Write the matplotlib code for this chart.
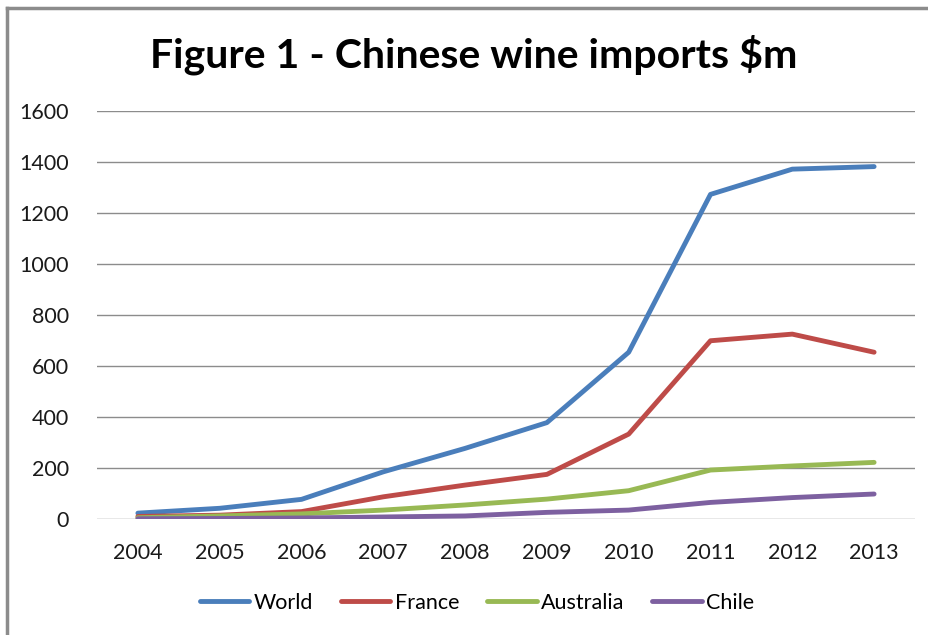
import matplotlib
matplotlib.use('Agg')
import matplotlib.pyplot as plt
from matplotlib.lines import Line2D

years = ['2004', '2005', '2006', '2007', '2008', '2009', '2010', '2011', '2012', '2013']
world = [23, 42, 77, 185, 277, 378, 654, 1273, 1372, 1382]
france = [10, 15, 29, 87, 133, 175, 333, 699, 725, 654]
australia = [5, 12, 20, 35, 55, 78, 111, 192, 208, 222]
chile = [1, 2, 4, 8, 12, 26, 35, 65, 84, 98]
series = ['World', 'France', 'Australia', 'Chile']
colors = ['#4a7ebb', '#be4b48', '#98b954', '#7d60a0']
yticks = [0, 200, 400, 600, 800, 1000, 1200, 1400, 1600]

plt.rcParams['font.family'] = ['Lato', 'DejaVu Sans']

fig = plt.figure(figsize=(9.29, 6.35), dpi=100)
ax = fig.add_axes([97/929, 1 - 519/635, 818/929, 408/635])

x = range(len(years))
for name, vals, c in zip(series, [world, france, australia, chile], colors):
    ax.plot(x, vals, color=c, linewidth=3.5, label=name, solid_capstyle='round')

ax.set_xlim(-0.5, len(years) - 0.5)
ax.set_ylim(0, 1600)
ax.set_yticks(yticks)
ax.set_xticks(list(x))
ax.set_xticklabels(years)
ax.grid(axis='y', color='#8c8c8c', linewidth=1)
ax.set_axisbelow(True)
for s in ax.spines.values():
    s.set_visible(False)
ax.tick_params(length=0, labelsize=15.5, colors='#1a1a1a')
ax.tick_params(axis='y', pad=20)
ax.tick_params(axis='x', pad=17)

fig.text(474/929, 1 - 55/635, 'Figure 1 - Chinese wine imports $m', ha='center', va='center',
         fontsize=29.5, fontweight='bold')

fig.legend(loc='center', bbox_to_anchor=(477/929, 1 - 603/635), ncol=4, frameon=False,
           fontsize=15.5, handlelength=2.3, columnspacing=1.3, handletextpad=0.2)

# chart border (left and top edges visible)
fig.lines.append(Line2D([7/929, 7/929], [0, 1 - 8/635], transform=fig.transFigure,
                        color='#8c8c8c', linewidth=2.5))
fig.lines.append(Line2D([7/929, 1], [1 - 8/635, 1 - 8/635], transform=fig.transFigure,
                        color='#8c8c8c', linewidth=2.5))

fig.savefig('out.png', dpi=100)
